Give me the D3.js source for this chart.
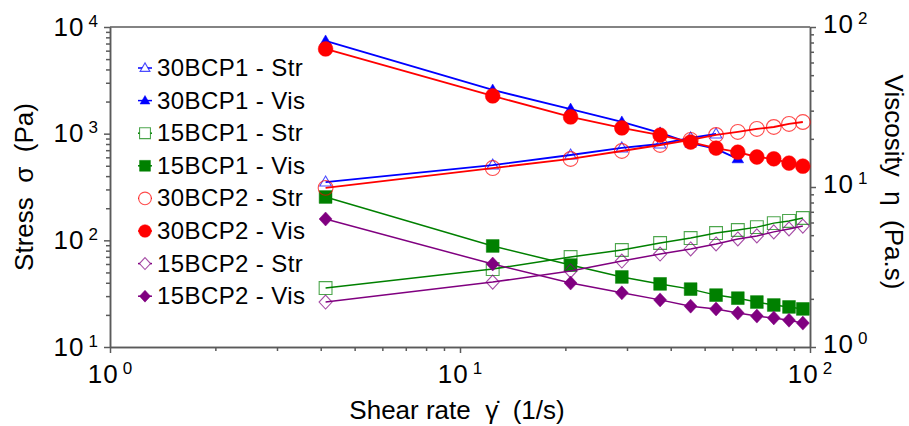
<!DOCTYPE html>
<html>
<head>
<meta charset="utf-8">
<script src="https://cdnjs.cloudflare.com/ajax/libs/d3/7.8.5/d3.min.js"></script>
<style>
    body { margin: 0; background: #fff; }
    svg { font-family: "Liberation Sans", Arial, sans-serif; }
</style>
</head>
<body>
<div id="chart"></div>
<script>
// values
const shearRate = [4.13, 12.4, 20.7, 29.0, 37.3, 45.6, 53.9, 62.2, 70.5, 78.8, 87.1, 95.4];

const str30BCP1 = [352, 508, 631, 735, 800, 912, 993];
const vis30BCP1 = [81.8, 40.4, 30.7, 25.5, 21.8, 18.8, 17.3, 15.0];
const str15BCP1 = [35.7, 53.8, 69.8, 81.2, 94.4, 105, 117, 125, 133, 145, 152, 162];
const vis15BCP1 = [8.66, 4.28, 3.25, 2.74, 2.48, 2.30, 2.11, 2.02, 1.91, 1.83, 1.78, 1.73];
const str30BCP2 = [310, 476, 579, 688, 783, 873, 972, 1038, 1107, 1155, 1233, 1286];
const vis30BCP2 = [72.9, 37.1, 27.4, 23.4, 21.1, 19.1, 17.5, 16.5, 15.4, 15.0, 14.1, 13.5];
const str15BCP2 = [26.4, 40.6, 51.6, 64.0, 74.4, 83.0, 92.5, 103, 110, 120, 128, 136];
const vis15BCP2 = [6.31, 3.30, 2.51, 2.18, 1.97, 1.80, 1.73, 1.63, 1.56, 1.52, 1.47, 1.41];

const xDomain = [1, 100];
const stressDomain = [10, 10000];
const viscDomain = [1, 100];

const series = [
    { label: "30BCP1 - Str", values: str30BCP1, axis: "str", color: "#0000ff", shape: "tri", filled: false },
    { label: "30BCP1 - Vis", values: vis30BCP1, axis: "vis", color: "#0000ff", shape: "tri", filled: true },
    { label: "15BCP1 - Str", values: str15BCP1, axis: "str", color: "#008000", shape: "sq", filled: false },
    { label: "15BCP1 - Vis", values: vis15BCP1, axis: "vis", color: "#008000", shape: "sq", filled: true },
    { label: "30BCP2 - Str", values: str30BCP2, axis: "str", color: "#ff0000", shape: "circ", filled: false },
    { label: "30BCP2 - Vis", values: vis30BCP2, axis: "vis", color: "#ff0000", shape: "circ", filled: true },
    { label: "15BCP2 - Str", values: str15BCP2, axis: "str", color: "#800080", shape: "dia", filled: false },
    { label: "15BCP2 - Vis", values: vis15BCP2, axis: "vis", color: "#800080", shape: "dia", filled: true }
];

const W = 909, H = 426;
const plot = { left: 110, right: 810, top: 27, bottom: 347 };
const axisColor = "#5a5a5a";

const svg = d3.select("#chart")
    .append("svg")
    .attr("width", W)
    .attr("height", H);

const x = d3.scaleLog().domain(xDomain).range([plot.left, plot.right]);
const yStr = d3.scaleLog().domain(stressDomain).range([plot.bottom, plot.top]);
const yVis = d3.scaleLog().domain(viscDomain).range([plot.bottom, plot.top]);

function isMajor(d) {
    const l = Math.log10(d);
    return Math.abs(l - Math.round(l)) < 1e-6;
}

// marker path, centred on 0,0
function markerPath(shape, k) {
    if (shape === "circ") {
        const r = 7.4 * k;
        return `M${r},0A${r},${r} 0 1,1 ${-r},0A${r},${r} 0 1,1 ${r},0Z`;
    }
    if (shape === "sq") {
        const h = 6.4 * k;
        return `M${-h},${-h}H${h}V${h}H${-h}Z`;
    }
    if (shape === "dia") {
        const w = 6.5 * k, h = 7 * k;
        return `M0,${-h}L${w},0L0,${h}L${-w},0Z`;
    }
    // triangle
    const w = 5.8 * k, h = 10 * k;
    return `M0,${-h * 0.6}L${w},${h * 0.4}L${-w},${h * 0.4}Z`;
}

// --- axes ---
function styleAxis(g) {
    g.attr("font-size", null).attr("font-family", null);
    g.selectAll("path, line").attr("stroke", axisColor).attr("stroke-width", 1.5);
}

function powLabels(g, anchor, lx, ly) {
    g.selectAll(".tick").filter(d => isMajor(d)).each(function (d) {
        const t = d3.select(this).append("text")
            .attr("fill", "#000")
            .attr("text-anchor", anchor)
            .attr("x", lx)
            .attr("y", ly)
            .style("font-size", "26px")
            .style("letter-spacing", "1px");
        t.append("tspan").text("10");
        t.append("tspan")
            .attr("dx", 4)
            .attr("dy", -9)
            .style("font-size", "17px")
            .text(Math.round(Math.log10(d)));
    });
}

function addAxis(axisFn, scale, transform, anchor, lx, ly) {
    const all = scale.ticks();
    // minor ticks
    svg.append("g")
        .attr("transform", transform)
        .call(axisFn(scale).tickValues(all.filter(d => !isMajor(d))).tickSize(4).tickSizeOuter(0).tickFormat(""))
        .call(styleAxis);
    // major ticks + labels
    svg.append("g")
        .attr("transform", transform)
        .call(axisFn(scale).tickValues(all.filter(isMajor)).tickSize(6).tickSizeOuter(0).tickFormat(""))
        .call(styleAxis)
        .call(g => powLabels(g, anchor, lx, ly));
}

addAxis(d3.axisBottom, x, `translate(0,${plot.bottom})`, "middle", 0, 36);
addAxis(d3.axisLeft, yStr, `translate(${plot.left},0)`, "end", -11, 8);
addAxis(d3.axisRight, yVis, `translate(${plot.right},0)`, "start", 13, 5);

// top frame line
svg.append("line")
    .attr("x1", plot.left).attr("x2", plot.right)
    .attr("y1", plot.top).attr("y2", plot.top)
    .attr("stroke", axisColor)
    .attr("stroke-width", 1.5);

// axis titles
svg.append("text")
    .attr("transform", `translate(33,${(plot.top + plot.bottom) / 2}) rotate(-90)`)
    .attr("text-anchor", "middle")
    .style("font-size", "26px")
    .style("white-space", "pre")
    .text("Stress  σ  (Pa)");

svg.append("text")
    .attr("transform", `translate(885,${(plot.top + plot.bottom) / 2 - 5}) rotate(90)`)
    .attr("text-anchor", "middle")
    .style("font-size", "26px")
    .style("white-space", "pre")
    .text("Viscosity  η  (Pa.s)");

svg.append("text")
    .attr("x", (plot.left + plot.right) / 2 - 3)
    .attr("y", 419)
    .attr("text-anchor", "middle")
    .style("font-size", "26px")
    .style("white-space", "pre")
    .text("Shear rate  γ̇  (1/s)");

// --- series ---
const plotArea = svg.append("g");

series.forEach(s => {
    const yScale = s.axis === "str" ? yStr : yVis;
    const pts = s.values.map((v, i) => [shearRate[i], v]);

    const line = d3.line()
        .x(d => x(d[0]))
        .y(d => yScale(d[1]));

    plotArea.append("path")
        .datum(pts)
        .attr("fill", "none")
        .attr("stroke", s.color)
        .attr("stroke-width", s.color === "#0000ff" || s.color === "#ff0000" ? 1.8 : 1.5)
        .attr("d", line);

    plotArea.selectAll(null)
        .data(pts)
        .enter()
        .append("path")
        .attr("transform", d => `translate(${x(d[0])},${yScale(d[1])})`)
        .attr("d", markerPath(s.shape, 1))
        .attr("fill", s.filled ? s.color : "none")
        .attr("stroke", s.color)
        .attr("stroke-opacity", s.filled ? 1 : 0.7)
        .attr("stroke-width", s.filled ? 0.5 : 1.1);
});

// --- legend ---
const legend = svg.append("g")
    .attr("class", "legend")
    .attr("transform", "translate(145,68)");

const legendItem = legend.selectAll(".legend-item")
    .data(series)
    .enter()
    .append("g")
    .attr("class", "legend-item")
    .attr("transform", (d, i) => `translate(0,${i * 32.6})`);

legendItem.append("line")
    .attr("x1", -7).attr("x2", 7)
    .attr("stroke", d => d.color)
    .attr("stroke-width", 1.5);

legendItem.append("path")
    .attr("d", d => markerPath(d.shape, 0.85))
    .attr("fill", d => d.filled ? d.color : "#fff")
    .attr("stroke", d => d.color)
    .attr("stroke-opacity", d => d.filled ? 1 : 0.7)
    .attr("stroke-width", d => d.filled ? 0.5 : 1.1);

legendItem.append("text")
    .attr("x", 12)
    .attr("y", 8)
    .style("font-size", "24px")
    .style("letter-spacing", "0.4px")
    .text(d => d.label);
</script>
</body>
</html>
